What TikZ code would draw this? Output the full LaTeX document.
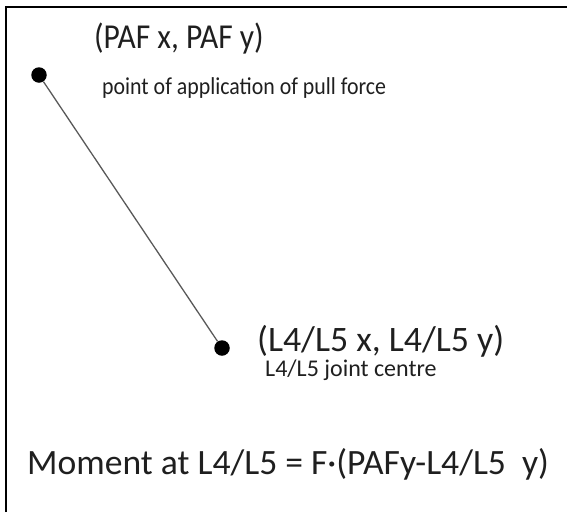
\documentclass[tikz,border=0pt]{standalone}
\usepackage{fontspec}
\setmainfont{Carlito}
\begin{document}
\begin{tikzpicture}[x=1pt,y=-1pt,
  lbl/.style={anchor=west,inner sep=0pt,text=black!88},
  dot/.style={circle,fill=black,inner sep=0pt,minimum size=15.5pt}]
\useasboundingbox (0,0) rectangle (567,512);
\draw[line width=2.2pt] (6,512) -- (6,7) -- (567,7);
\node[dot] (paf) at (39,75) {};
\node[dot] (l45) at (222,348) {};
\draw[black!65,line width=1.3pt] (paf) -- (l45);
\node[lbl,xscale=0.9,font=\fontsize{35}{40}\selectfont] (t1) at (94,39) {(PAF x, PAF y)};
\node[lbl,xscale=0.9,font=\fontsize{24.3}{28}\selectfont] (t2) at (102,88) {point of application of pull force};
\node[lbl,font=\fontsize{35.8}{40}\selectfont] (t3) at (257,341) {(L4/L5 x, L4/L5 y)};
\node[lbl,font=\fontsize{24}{28}\selectfont] (t4) at (265,370) {L4/L5 joint centre};
\node[lbl,font=\fontsize{35.6}{40}\selectfont] (t5) at (27,464) {Moment at L4/L5 = F·(PAFy-L4/L5\ \ y)};
\end{tikzpicture}
\end{document}
